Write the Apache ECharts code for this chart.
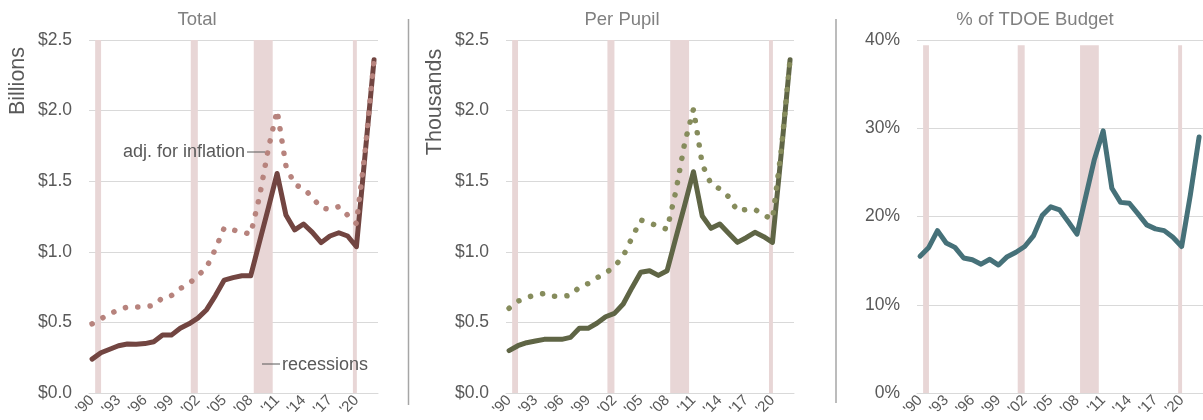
<!DOCTYPE html>
<html>
<head>
<meta charset="utf-8">
<script src="https://cdn.jsdelivr.net/npm/echarts@6/dist/echarts.min.js"></script>
<style>
html,body{margin:0;padding:0;background:#fff;}
#chart{width:1203px;height:420px;}
</style>
</head>
<body>
<div id="chart"></div>
<script>
// ---- data ----
var years = [1990,1991,1992,1993,1994,1995,1996,1997,1998,1999,2000,2001,2002,2003,2004,2005,2006,2007,2008,2009,2010,2011,2012,2013,2014,2015,2016,2017,2018,2019,2020,2021,2022];
var totalNominal = [0.24,0.285,0.31,0.335,0.347,0.345,0.35,0.363,0.41,0.41,0.458,0.49,0.53,0.59,0.69,0.80,0.817,0.83,0.83,1.07,1.31,1.555,1.26,1.155,1.197,1.138,1.065,1.112,1.135,1.112,1.036,1.70,2.36];
var totalAdj = [0.49,0.525,0.56,0.59,0.609,0.609,0.61,0.62,0.675,0.69,0.74,0.775,0.83,0.89,1.02,1.17,1.155,1.14,1.125,1.39,1.73,2.00,1.61,1.475,1.45,1.385,1.31,1.30,1.32,1.26,1.20,1.72,2.36];
var ppNominal = [0.30,0.335,0.356,0.368,0.38,0.38,0.38,0.394,0.458,0.458,0.494,0.54,0.564,0.63,0.746,0.855,0.866,0.833,0.866,1.10,1.33,1.567,1.254,1.166,1.197,1.131,1.067,1.10,1.138,1.107,1.067,1.70,2.36];
var ppAdj = [0.60,0.65,0.675,0.695,0.705,0.685,0.685,0.69,0.75,0.775,0.815,0.85,0.895,0.97,1.10,1.225,1.205,1.18,1.16,1.43,1.77,2.01,1.62,1.48,1.445,1.39,1.29,1.30,1.30,1.26,1.23,1.72,2.36];
var budgetPct = [15.5,16.5,18.4,17.0,16.5,15.3,15.1,14.6,15.15,14.5,15.45,15.95,16.6,17.8,20.1,21.1,20.75,19.4,18.0,22.25,26.5,29.7,23.2,21.6,21.5,20.3,19.05,18.6,18.4,17.65,16.6,22.45,29.0];
var recessionStart = [1990.35, 2001.2, 2008.35, 2019.6];
var recessionEnd = [1991.02, 2002.0, 2010.5, 2020.05];
var tickYears = [1990,1993,1996,1999,2002,2005,2008,2011,2014,2017,2020];
var dollarTicks = [0,0.5,1.0,1.5,2.0,2.5];
var pctTicks = [0,10,20,30,40];

// ---- build ----
var FONT = '"Liberation Sans", Arial, sans-serif';
var base = years[0];
function pairs(arr){ return arr.map(function(v,i){ return [years[i]-base, v]; }); }
function recAreas(yTop){
  return recessionStart.map(function(s,i){
    return [{xAxis: s-base, yAxis: 0}, {xAxis: recessionEnd[i]-base, yAxis: yTop}];
  });
}
var tickIdx = tickYears.map(function(y){ return y-base; });
function xAxisDef(gi){
  return {
    type:'value', gridIndex: gi, min:-0.35, max:32.45,
    axisLine:{show:true, lineStyle:{color:'#d9d9d9', width:1}},
    axisTick:{show:false},
    splitLine:{show:false},
    axisLabel:{
      customValues: tickIdx, rotate:45, color:'#595959', fontSize:15, fontFamily:FONT, margin:5,
      formatter:function(v){ var y=Math.round(v)+base; return "'" + String(y%100).padStart(2,'0'); }
    }
  };
}
function yAxisDef(gi, max, interval, fmt){
  return {
    type:'value', gridIndex: gi, min:0, max:max, interval:interval,
    axisLine:{show:false}, axisTick:{show:false},
    splitLine:{show:true, lineStyle:{color:'#d9d9d9', width:1}},
    axisLabel:{color:'#595959', fontSize:17.5, fontFamily:FONT, margin:17, formatter:fmt}
  };
}
var dollarFmt = function(v){ return '$' + v.toFixed(1); };
var pctFmt = function(v){ return v + '%'; };

function recSeries(gi, yTop){
  return {
    type:'line', xAxisIndex:gi, yAxisIndex:gi, data:[], z:1, silent:true,
    markArea:{silent:true, itemStyle:{color:'#e8d6d6'}, label:{show:false}, data: recAreas(yTop)}
  };
}
function solid(gi, arr, color){
  return {type:'line', xAxisIndex:gi, yAxisIndex:gi, data:pairs(arr), showSymbol:false, z:3,
    lineStyle:{color:color, width:5, cap:'round', join:'round'}, silent:true};
}
function dotted(gi, arr, color){
  return {type:'line', xAxisIndex:gi, yAxisIndex:gi, data:pairs(arr), showSymbol:false, z:4,
    lineStyle:{color:color, width:5.5, type:[0.1, 12.3], cap:'round', join:'round'}, silent:true};
}

var option = {
  animation:false,
  grid:[
    {left:89, top:40, width:289, height:353},
    {left:506, top:40, width:288, height:353},
    {left:917, top:40, width:289, height:353}
  ],
  xAxis:[xAxisDef(0), xAxisDef(1), xAxisDef(2)],
  yAxis:[
    yAxisDef(0, dollarTicks[dollarTicks.length-1], 0.5, dollarFmt),
    yAxisDef(1, dollarTicks[dollarTicks.length-1], 0.5, dollarFmt),
    yAxisDef(2, pctTicks[pctTicks.length-1], 10, pctFmt)
  ],
  series:[
    recSeries(0, 2.5),
    recSeries(1, 2.5),
    recSeries(2, 39.4),
    solid(0, totalNominal, '#724541'),
    dotted(0, totalAdj, '#b7837d'),
    solid(1, ppNominal, '#5f6545'),
    dotted(1, ppAdj, '#868c5c'),
    solid(2, budgetPct, '#467179')
  ],
  graphic:[
    {type:'text', z:100, x:197, y:20, style:{text:'Total', font:'18.5px '+FONT, fill:'#808080', textAlign:'center', textVerticalAlign:'middle'}},
    {type:'text', z:100, x:622, y:20, style:{text:'Per Pupil', font:'18.5px '+FONT, fill:'#808080', textAlign:'center', textVerticalAlign:'middle'}},
    {type:'text', z:100, x:1035, y:20, style:{text:'% of TDOE Budget', font:'18.5px '+FONT, fill:'#808080', textAlign:'center', textVerticalAlign:'middle'}},
    {type:'text', z:100, x:18, y:81, rotation:Math.PI/2, style:{text:'Billions', font:'21.5px '+FONT, fill:'#595959', textAlign:'center', textVerticalAlign:'middle'}},
    {type:'text', z:100, x:435, y:102, rotation:Math.PI/2, style:{text:'Thousands', font:'21.5px '+FONT, fill:'#595959', textAlign:'center', textVerticalAlign:'middle'}},
    {type:'text', z:100, x:245, y:152, style:{text:'adj. for inflation', font:'18px '+FONT, fill:'#595959', textAlign:'right', textVerticalAlign:'middle'}},
    {type:'line', z:100, shape:{x1:247, y1:152, x2:265, y2:152}, style:{stroke:'#595959', lineWidth:1}},
    {type:'text', z:100, x:282, y:365, style:{text:'recessions', font:'18px '+FONT, fill:'#595959', textAlign:'left', textVerticalAlign:'middle'}},
    {type:'line', z:100, shape:{x1:262, y1:364, x2:280, y2:364}, style:{stroke:'#595959', lineWidth:1}},
    {type:'line', z:100, shape:{x1:408.5, y1:19, x2:408.5, y2:405}, style:{stroke:'#a6a6a6', lineWidth:1.5}},
    {type:'line', z:100, shape:{x1:836, y1:19, x2:836, y2:403}, style:{stroke:'#a6a6a6', lineWidth:1.5}}
  ]
};
var chart = echarts.init(document.getElementById('chart'), null, {renderer:'canvas'});
chart.setOption(option);
</script>
</body>
</html>
